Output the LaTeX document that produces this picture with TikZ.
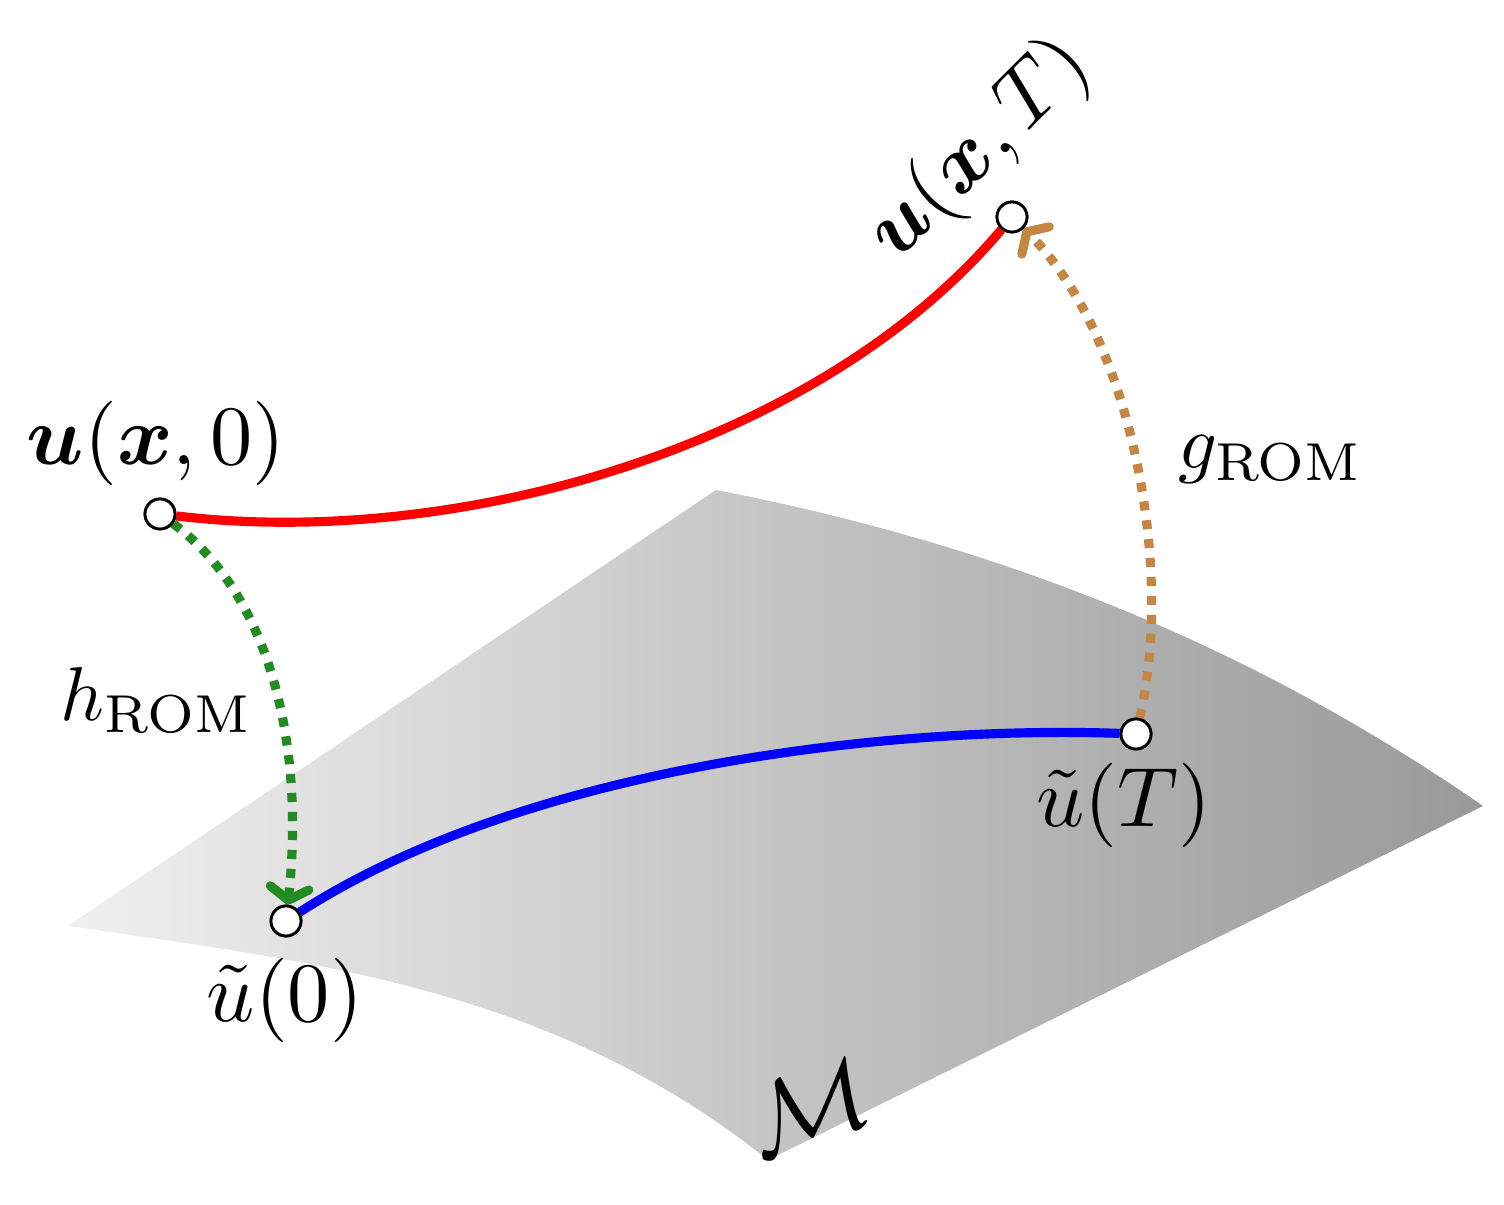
\documentclass[tikz,border=0pt]{standalone}
\usepackage{amsmath}
\usepackage{amssymb}
\usepackage{bm}
\usepackage{xcolor}
\usepackage{tikz}
\usetikzlibrary{arrows.meta}

\definecolor{romgreen}{RGB}{34,139,34}
\definecolor{romtan}{RGB}{196,134,66}

\tikzset{
  pt/.style={circle, draw=black, fill=white, line width=0.8pt, minimum size=0.3cm, inner sep=0pt},
  lbl/.style={scale=2.4},
  maplbl/.style={scale=2.17},
  traj/.style={line width=2.6pt},
  dotmap/.style={line width=2.6pt, dash pattern=on 2.6pt off 2.8pt,
    -{Straight Barb[round,length=3.5pt,width=11pt]}}
}

\begin{document}
\begin{tikzpicture}
   		\useasboundingbox (0,0) rectangle (15.04,12.05);
   		
   		% manifold
   		\coordinate (L) at (0.68, 2.79);
   		\coordinate (Tp) at (7.16, 7.15);
   		\coordinate (R) at (14.83, 3.99);
   		\coordinate (B) at (7.68, 0.45);
   		\shade[left color=gray!12, right color=gray!80]
   			(L) -- (Tp) .. controls (10, 6.6) and (12.5, 5.6) .. (R)
   			-- (B) .. controls (5.5, 2.2) and (3, 2.45) .. (L) -- cycle;
   		
   		\node[pt] (u0) at (1.60, 6.91) {};
   		\node[pt] (uT) at (10.12, 9.88) {};
   		\node[pt] (r0) at (2.86, 2.84) {};
   		\node[pt] (rT) at (11.36, 4.71) {};
   		
   		\draw[traj, red] (u0) .. controls (4.6, 6.55) and (8.2, 7.6) .. (uT);
   		\draw[traj, blue] (r0) .. controls (5.2, 4.35) and (8.8, 4.8) .. (rT);
   		\draw[dotmap, romgreen] (u0) .. controls (2.7, 6.1) and (3.05, 4.6) .. (r0);
   		\draw[dotmap, romtan] (rT) .. controls (11.75, 6.4) and (11.3, 8.7) .. (uT);
   		
   		% redraw points on top
   		\foreach \p in {u0, uT, r0, rT}{
   			\node[pt] at (\p) {};
   		}
   		
   		\node[lbl] (lu0) at (1.56, 7.62) {$\bm{u}(\bm{x},0)$};
   		\node[lbl, rotate=45] (luT) at (9.8, 10.55) {$\bm{u}(\bm{x},T)$};
   		\node[lbl] (lr0) at (2.85, 2.05) {$\tilde{u}(0)$};
   		\node[lbl] (lrT) at (11.24, 4.0) {$\tilde{u}(T)$};
   		\node[maplbl] (lh) at (1.57, 5.05) {$h_{\mathrm{ROM}}$};
   		\node[maplbl] (lg) at (12.71, 7.45) {$g_{\mathrm{ROM}}$};
   		\node[scale=2.9, rotate=18] (lM) at (8.08, 0.98) {$\mathcal{M}$};
   	\end{tikzpicture}
\end{document}
